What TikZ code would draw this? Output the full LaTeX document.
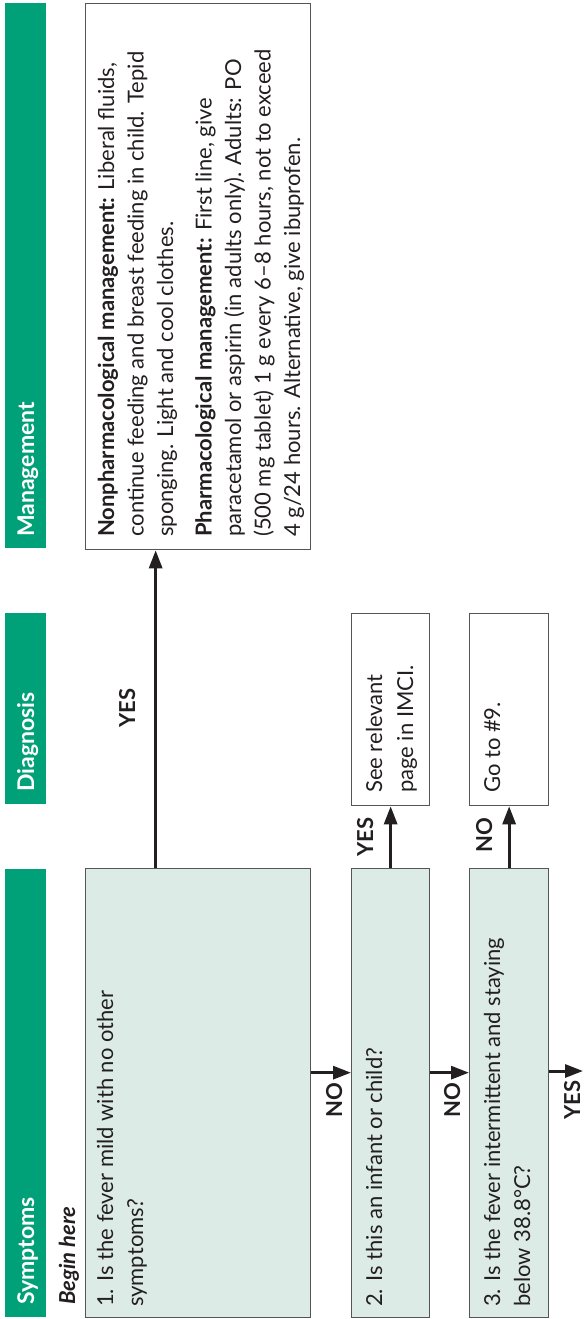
\documentclass[tikz,border=0pt]{standalone}
\usepackage{fontspec}
\setmainfont{Lato}
\usetikzlibrary{arrows.meta}
\definecolor{hdrgreen}{RGB}{0,161,120}
\definecolor{qfill}{RGB}{221,235,230}
\definecolor{edge}{RGB}{85,85,85}
\definecolor{ink}{RGB}{35,31,32}

\begin{document}
\begin{tikzpicture}[x=1pt,y=-1pt,
  hdr/.style={fill=hdrgreen, draw=none, inner sep=0, minimum width=41pt, anchor=north west},
  hdrtext/.style={rotate=90, anchor=base west, inner sep=0, text=white,
    font=\fontsize{23}{28}\selectfont\bfseries},
  qbox/.style={draw=edge, line width=1.3pt, fill=qfill, inner sep=0, anchor=north west},
  abox/.style={draw=edge, line width=1.3pt, fill=white, inner sep=0, anchor=north west},
  body/.style={rotate=90, anchor=base west, inner sep=0, text=ink,
    font=\fontsize{22}{30}\selectfont},
  lbl/.style={rotate=90, anchor=base west, inner sep=0, text=ink,
    font=\fontsize{22}{26}\selectfont\bfseries},
  arr/.style={draw=ink, line width=3pt, -{Triangle[length=18pt,width=13pt]}},
]
\useasboundingbox (0,0) rectangle (584,1319);

% column headers
\node[hdr, minimum height=545pt] (hm) at (5,3) {};
\node[hdr, minimum height=191pt] (hd) at (5,613) {};
\node[hdr, minimum height=448pt] (hs) at (5,869) {};
\node[hdrtext] (hmt) at (34,537) {Management};
\node[hdrtext] (hdt) at (34,792) {Diagnosis};
\node[hdrtext] (hst) at (34,1305) {Symptoms};

% boxes
\node[abox, minimum width=225pt, minimum height=546pt] (m) at (85,3) {};
\node[qbox, minimum width=225pt, minimum height=449pt] (q1) at (85,868) {};
\node[qbox, minimum width=78pt, minimum height=449pt] (q2) at (351,868) {};
\node[qbox, minimum width=79pt, minimum height=449pt] (q3) at (469,868) {};
\node[abox, minimum width=78pt, minimum height=192pt] (d1) at (351,613) {};
\node[abox, minimum width=79pt, minimum height=192pt] (d2) at (469,613) {};

% texts
\node[body] (mtx) at (114,537) {\parbox[t]{600pt}{\raggedright\fontsize{22}{29.5}\selectfont
  \textbf{Nonpharmacological management:} Liberal fluids,\\
  continue feeding and breast feeding in child. Tepid\\
  sponging. Light and cool clothes.\par\vspace{9pt}
  \textbf{Pharmacological management:} First line, give\\
  paracetamol or aspirin (in adults only). Adults: PO\\
  (500 mg tablet) 1 g every 6–8 hours, not to exceed\\
  4 g/24 hours. Alternative, give ibuprofen.}};
\node[body, font=\fontsize{22}{26}\selectfont\bfseries\itshape] (bh) at (75,1305) {Begin here};
\node[body] (q1t) at (113,1307) {\parbox[t]{440pt}{\raggedright
  1. Is the fever mild with no other\\ symptoms?}};
\node[body] (q2t) at (382,1307) {2. Is this an infant or child?};
\node[body] (q3t) at (500,1307) {\parbox[t]{440pt}{\raggedright
  3. Is the fever intermittent and staying\\ below 38.8°C?}};
\node[body] (d1t) at (382,793) {\parbox[t]{180pt}{\raggedright\fontsize{22}{31}\selectfont
  See relevant\\ page in IMCI.}};
\node[body] (d2t) at (500,793) {Go to \#9.};

% connectors
\coordinate (exit) at (583,1071);
\draw[arr] ([xshift=-42.5pt]q1.north) -- ([xshift=-42.5pt]m.south);
\draw[arr] ([yshift=20.5pt]q1.east) -- ([yshift=20.5pt]q2.west);
\draw[arr] ([yshift=20.5pt]q2.east) -- ([yshift=20.5pt]q3.west);
\draw[arr] (q3.east |- exit) -- (exit);
\draw[arr] (q2.north) -- (d1.south);
\draw[arr] (q3.north) -- (d2.south);

% connector labels
\node[lbl] (y1) at (135,728) {YES};
\node[lbl] (n1) at (342,1118) {NO};
\node[lbl] (n2) at (460,1118) {NO};
\node[lbl] (y3) at (580,1120) {YES};
\node[lbl] (y2) at (373,857) {YES};
\node[lbl] (n3) at (492,853) {NO};
\end{tikzpicture}
\end{document}
